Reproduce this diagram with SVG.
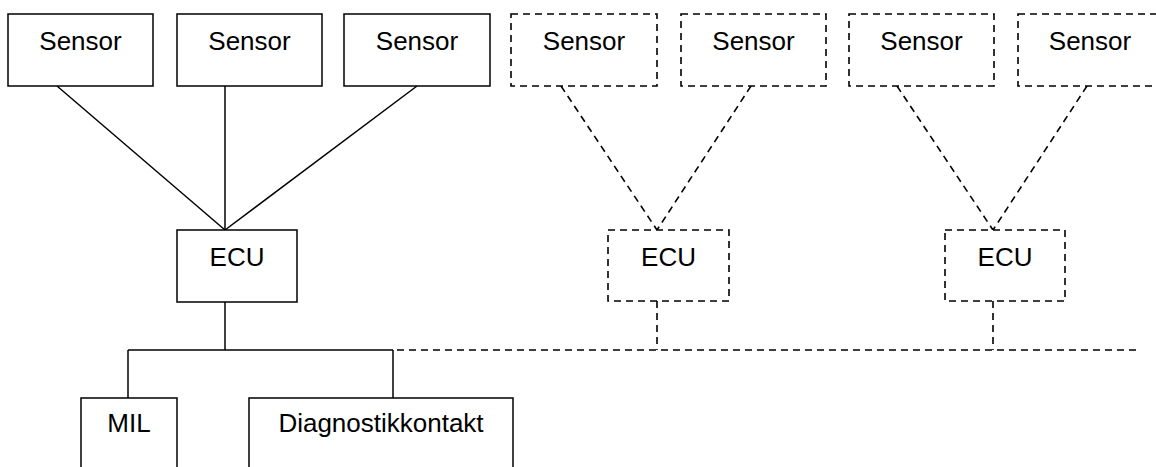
<svg xmlns="http://www.w3.org/2000/svg" width="1156" height="467" viewBox="0 0 1156 467">
  <style>
    .box { fill: #fff; stroke: #000; stroke-width: 1.5; }
    .opt { fill: #fff; stroke: #000; stroke-width: 1.6; stroke-dasharray: 7 5; }
    .wire { fill: none; stroke: #000; stroke-width: 1.5; }
    .dwire { fill: none; stroke: #000; stroke-width: 1.6; stroke-dasharray: 7 5; }
    text { font-family: "Liberation Sans", Arial, sans-serif; font-size: 26px; fill: #000; text-anchor: middle; }
  </style>
  <rect width="1156" height="467" fill="#fff"/>

  <!-- connectors -->
  <g id="connectors">
    <line class="wire" x1="57" y1="86" x2="225" y2="230"/>
    <line class="wire" x1="225" y1="86" x2="225" y2="230"/>
    <line class="wire" x1="417" y1="86" x2="225" y2="230"/>
    <line class="wire" x1="225" y1="302" x2="225" y2="350"/>
    <line class="wire" x1="128" y1="350" x2="393" y2="350"/>
    <line class="wire" x1="128" y1="350" x2="128" y2="398"/>
    <line class="wire" x1="393" y1="350" x2="393" y2="398"/>
    <line class="dwire" x1="397" y1="350" x2="1140" y2="350"/>
    <line class="dwire" x1="561" y1="86" x2="657" y2="230"/>
    <line class="dwire" x1="751" y1="86" x2="657" y2="230"/>
    <line class="dwire" x1="657" y1="301" x2="657" y2="350"/>
    <line class="dwire" x1="897" y1="86" x2="993" y2="230"/>
    <line class="dwire" x1="1087" y1="86" x2="993" y2="230"/>
    <line class="dwire" x1="993" y1="301" x2="993" y2="350"/>
  </g>

  <!-- fitted sensors and control unit -->
  <g id="sensor1"><rect class="box" x="8" y="14" width="145" height="72"/><text x="80.5" y="50">Sensor</text></g>
  <g id="sensor2"><rect class="box" x="177" y="14" width="145" height="72"/><text x="249.5" y="50">Sensor</text></g>
  <g id="sensor3"><rect class="box" x="344" y="14" width="146" height="72"/><text x="417" y="50">Sensor</text></g>
  <g id="ecu1"><rect class="box" x="177" y="230" width="120" height="72"/><text x="237" y="266">ECU</text></g>

  <!-- optional sensors and control units -->
  <g id="sensor4"><rect class="opt" x="511" y="14" width="146" height="72"/><text x="584" y="50">Sensor</text></g>
  <g id="sensor5"><rect class="opt" x="681" y="14" width="145" height="72"/><text x="753.5" y="50">Sensor</text></g>
  <g id="sensor6"><rect class="opt" x="849" y="14" width="145" height="72"/><text x="921.5" y="50">Sensor</text></g>
  <g id="sensor7"><rect class="opt" x="1018" y="14" width="145" height="72"/><text x="1090" y="50">Sensor</text></g>
  <g id="ecu2"><rect class="opt" x="608" y="230" width="121" height="71"/><text x="668.5" y="266">ECU</text></g>
  <g id="ecu3"><rect class="opt" x="945" y="230" width="120" height="71"/><text x="1005" y="266">ECU</text></g>

  <!-- outputs -->
  <g id="mil"><rect class="box" x="81" y="398" width="96" height="80"/><text x="129" y="432">MIL</text></g>
  <g id="diag"><rect class="box" x="249" y="398" width="264" height="80"/><text x="381" y="432">Diagnostikkontakt</text></g>
</svg>
